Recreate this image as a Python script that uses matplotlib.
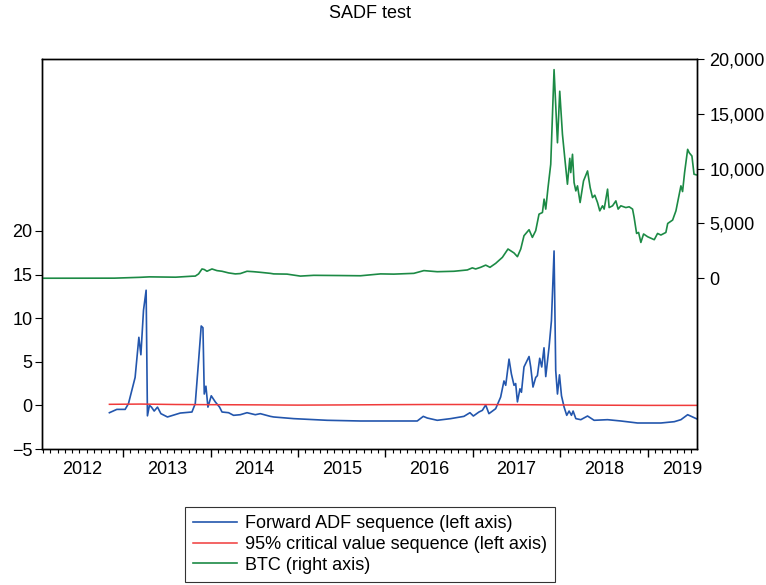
import numpy as np
import matplotlib.pyplot as plt
from matplotlib.lines import Line2D

plt.rcParams['font.family'] = ['Liberation Sans', 'DejaVu Sans']

# forward ADF sequence (decimal year, statistic)
adf_t = [2012.843, 2012.928, 2013.023, 2013.061, 2013.137, 2013.180, 2013.203, 2013.233,
         2013.263, 2013.278, 2013.301, 2013.324, 2013.355, 2013.393, 2013.432, 2013.507,
         2013.653, 2013.787, 2013.825, 2013.863, 2013.893, 2013.913, 2013.928, 2013.947,
         2013.970, 2014.008, 2014.054, 2014.103, 2014.131, 2014.206, 2014.263, 2014.340,
         2014.417, 2014.512, 2014.569, 2014.684, 2014.722, 2014.951, 2015.333, 2015.715,
         2016.096, 2016.364, 2016.433, 2016.479, 2016.593, 2016.746, 2016.898, 2016.967,
         2017.006, 2017.070, 2017.109, 2017.147, 2017.184, 2017.261, 2017.318, 2017.356,
         2017.376, 2017.414, 2017.441, 2017.471, 2017.490, 2017.510, 2017.539, 2017.556,
         2017.585, 2017.643, 2017.662, 2017.688, 2017.719, 2017.738, 2017.765, 2017.788,
         2017.814, 2017.834, 2017.872, 2017.899, 2017.929, 2017.948, 2017.968, 2017.991,
         2018.014, 2018.044, 2018.074, 2018.101, 2018.128, 2018.147, 2018.178, 2018.235,
         2018.312, 2018.387, 2018.541, 2018.693, 2018.884, 2019.151, 2019.304, 2019.380,
         2019.457, 2019.514, 2019.564]
adf_v = [-0.84, -0.46, -0.46, 0.2, 3.2, 7.8, 5.8, 10.9,
         13.2, -1.2, 0.0, -0.2, -0.65, -0.2, -0.95, -1.33,
         -0.88, -0.76, 0.2, 5.1, 9.1, 8.9, 1.3, 2.2,
         -0.2, 1.1, 0.4, -0.2, -0.76, -0.84, -1.14, -1.07,
         -0.84, -1.07, -0.95, -1.26, -1.33, -1.52, -1.71, -1.79,
         -1.79, -1.79, -1.26, -1.45, -1.71, -1.52, -1.26, -0.84,
         -1.22, -0.76, -0.57, 0.05, -0.95, -0.38, 0.95, 2.8,
         2.3, 5.3, 3.6, 2.3, 2.5, 0.4, 1.9, 1.5,
         4.4, 5.6, 4.4, 2.1, 3.2, 3.4, 5.4, 4.4,
         6.6, 3.3, 6.7, 9.7, 17.7, 4.0, 1.3, 3.5,
         1.1, -0.2, -1.14, -0.65, -1.14, -0.65, -1.52, -1.64,
         -1.22, -1.71, -1.64, -1.79, -2.02, -2.02, -1.87, -1.64,
         -1.07, -1.33, -1.56]

# 95% critical value sequence
cv_t = [2012.843, 2013.2, 2013.6, 2014.0, 2014.5, 2015.0, 2015.5, 2016.0, 2016.5,
        2017.0, 2017.5, 2018.0, 2018.5, 2019.0, 2019.564]
cv_v = [0.12, 0.15, 0.1, 0.08, 0.06, 0.03, 0.05, 0.08, 0.1,
        0.1, 0.08, 0.05, 0.02, 0.0, 0.0]

# BTC price, USD
btc_t = [2012.072, 2012.5, 2012.9, 2013.2, 2013.3, 2013.6, 2013.787, 2013.825, 2013.863,
         2013.902, 2013.928, 2013.959, 2014.016, 2014.073, 2014.131, 2014.206, 2014.283,
         2014.340, 2014.417, 2014.493, 2014.569, 2014.684, 2014.722, 2014.875, 2015.027,
         2015.180, 2015.486, 2015.715, 2015.944, 2016.096, 2016.325, 2016.440, 2016.593,
         2016.784, 2016.937, 2016.994, 2017.032, 2017.089, 2017.147, 2017.196, 2017.261,
         2017.338, 2017.402, 2017.471, 2017.510, 2017.548, 2017.585, 2017.643, 2017.681,
         2017.719, 2017.757, 2017.796, 2017.815, 2017.834, 2017.860, 2017.891, 2017.929,
         2017.968, 2017.994, 2018.025, 2018.055, 2018.082, 2018.109, 2018.120, 2018.140,
         2018.158, 2018.178, 2018.197, 2018.227, 2018.266, 2018.312, 2018.342, 2018.369,
         2018.395, 2018.426, 2018.452, 2018.483, 2018.502, 2018.541, 2018.559, 2018.598,
         2018.636, 2018.662, 2018.693, 2018.750, 2018.788, 2018.827, 2018.845, 2018.873,
         2018.896, 2018.922, 2018.953, 2018.999, 2019.075, 2019.113, 2019.151, 2019.208,
         2019.229, 2019.285, 2019.323, 2019.361, 2019.380, 2019.399, 2019.422, 2019.457,
         2019.475, 2019.506, 2019.530, 2019.558]
btc_v = [5, 8, 12, 90, 130, 100, 190, 200, 400,
         850, 800, 640, 850, 700, 640, 490, 400,
         430, 640, 600, 545, 450, 400, 380, 200,
         270, 250, 230, 400, 380, 450, 700, 600,
         640, 760, 950, 850, 1000, 1200, 1000, 1360,
         1910, 2670, 2310, 1970, 2670, 3880, 4430, 3730,
         4340, 5850, 6000, 7220, 6310, 8270, 10400, 19030,
         12360, 17060, 13130, 10700, 8580, 10940, 9640, 11310,
         8730, 7970, 8430, 6910, 8880, 9790, 8270, 7360,
         7580, 6910, 6150, 6610, 6310, 8130, 6450, 6610,
         7060, 6310, 6610, 6450, 6520, 6310, 5545, 4090,
         4180, 3270, 4040, 3790, 3520, 4090, 3945, 4180,
         5000, 5310, 6150, 7670, 8430, 7910, 9640, 11760,
         11450, 11150, 9490, 9430]

years = list(range(2012, 2020))
left_ticks = [-5, 0, 5, 10, 15, 20]
right_ticks = [0, 5000, 10000, 15000, 20000]

c_adf = '#2356ad'
c_cv = '#f03a3a'
c_btc = '#1c8a45'

x0, x1 = 2012.072, 2019.564
fs = 13

fig = plt.figure(figsize=(7.66, 5.85), dpi=100)
ax = fig.add_axes([42/766, 1-449/585, 655/766, 390/585])
ax.plot(adf_t, adf_v, color=c_adf, lw=1.2)
ax.plot(cv_t, cv_v, color=c_cv, lw=1.1)
ax.set_xlim(x0, x1)
ax.set_ylim(-5, 39.7)
ax.set_yticks(left_ticks)
ax.tick_params(axis='y', labelsize=fs, length=5, pad=2, direction='out')

axr = ax.twinx()
axr.plot(btc_t, btc_v, color=c_btc, lw=1.2)
axr.set_ylim(-15570, 20000)
axr.set_yticks(right_ticks)
axr.set_yticklabels([f'{v:,}' for v in right_ticks])
axr.tick_params(axis='y', labelsize=fs, length=5, pad=4, direction='out')

# year boundaries as long ticks, months as short ones
ax.set_xticks(years[1:])
ax.set_xticklabels([])
ax.set_xticks([y + m/12 for y in range(2012, 2020) for m in range(12)
               if x0 <= y + m/12 <= x1], minor=True)
ax.tick_params(axis='x', which='major', length=6, width=1)
ax.tick_params(axis='x', which='minor', length=3, width=0.8)

lab_pos = [(max(y, x0) + min(y + 1, x1)) / 2 for y in years]
lab_pos[-1] = 2019.39
sec = ax.secondary_xaxis('bottom')
sec.set_xticks(lab_pos)
sec.set_xticklabels([str(y) for y in years])
sec.tick_params(length=0, labelsize=fs, pad=9)
sec.spines['bottom'].set_visible(False)

for a in (ax, axr):
    for s in a.spines.values():
        s.set_linewidth(1.0)

fig.text(370/766, 1-14/585, 'SADF test', ha='center', va='center', fontsize=fs)

handles = [Line2D([], [], color=c_adf, lw=1.2),
           Line2D([], [], color=c_cv, lw=1.1),
           Line2D([], [], color=c_btc, lw=1.2)]
labels = ['Forward ADF sequence (left axis)',
          '95% critical value sequence (left axis)',
          'BTC (right axis)']
leg = fig.legend(handles, labels, loc='center', bbox_to_anchor=(370/766, 1-544.5/585),
                 fontsize=fs, frameon=True, fancybox=False, handlelength=2.4,
                 handletextpad=0.45, labelspacing=0.2, borderpad=0.45)
leg.get_frame().set_edgecolor('black')
leg.get_frame().set_linewidth(0.8)

fig.savefig('out.png', dpi=100)
